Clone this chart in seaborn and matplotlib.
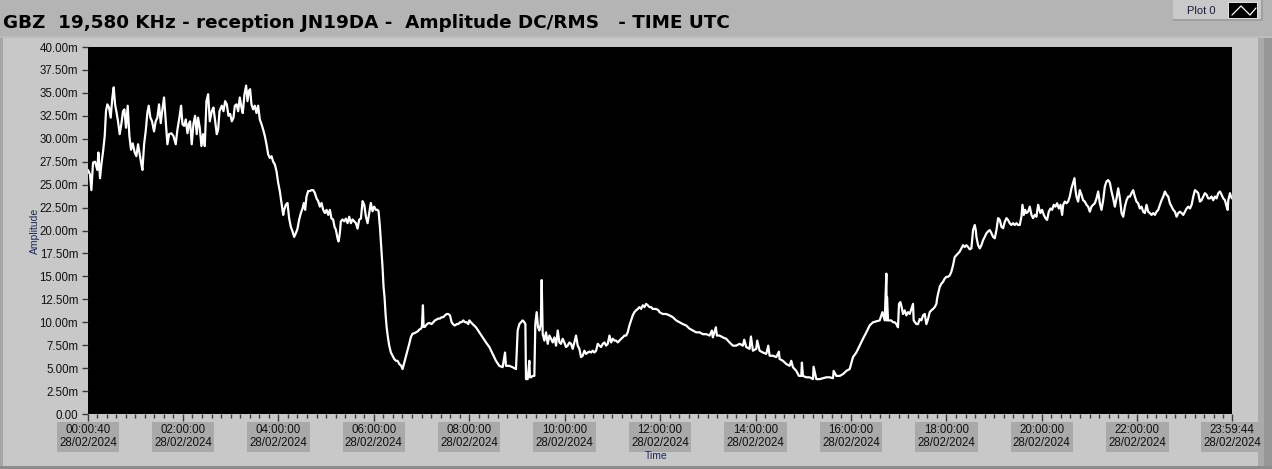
import numpy as np
import pandas as pd
import matplotlib
matplotlib.use("Agg")
import matplotlib.pyplot as plt
import seaborn as sns
from matplotlib.patches import Rectangle
from matplotlib.lines import Line2D
from matplotlib.ticker import FixedLocator

# ---- data: time in minutes after 00:00 UTC (28/02/2024), amplitude in mV ----
t_seg1 = [0.7, 3.2, 4.9, 7.0, 9.5, 12.4, 13.7, 15.8, 17.5, 19.6, 21.7, 23.3, 25.0, 27.1, 29.2, 31.3, 33.0, 34.7, 36.3, 38.4,
          40.5, 42.6, 44.7, 46.4, 48.5, 50.6, 52.7, 54.8, 56.9, 59.4, 61.5, 63.6, 65.7, 67.8, 69.1, 71.2, 73.2, 75.3, 77.0, 79.1,
          81.2, 83.7, 85.8, 87.9, 90.0, 92.1, 94.2, 96.3, 98.4, 100.5, 102.6, 105.5, 108.1, 111.0, 113.1, 115.6, 117.7, 119.4, 121.5, 123.6,
          125.7, 127.4, 129.0, 131.1, 133.2, 135.3, 137.4, 139.1, 141.2, 143.3, 145.4, 147.5, 149.6, 151.7, 153.8, 156.3, 158.4, 160.5, 162.6, 164.3,
          166.0, 168.9, 171.0, 173.1, 175.2, 177.3, 179.4, 181.5, 183.6, 185.3, 187.4, 189.5, 191.5, 193.6, 195.3, 197.4, 199.5, 201.2, 202.9, 204.5,
          206.2, 208.3, 210.4, 212.5, 214.6, 216.7, 218.8, 220.9, 223.0, 225.1, 227.2, 229.3, 231.4, 233.5, 235.6, 237.7, 239.8, 241.9, 244.0, 246.1]
a_seg1 = [26.6, 26.1, 24.4, 27.4, 27.5, 26.6, 28.5, 25.7, 27.2, 28.6, 30.3, 33.0, 33.75, 33.4, 32.3, 34.5, 35.6, 33.75, 33.0, 31.9,
          30.5, 31.6, 33.0, 33.2, 31.2, 33.6, 30.3, 28.8, 29.5, 28.5, 28.1, 29.4, 28.3, 27.2, 26.6, 29.4, 30.8, 32.8, 33.6, 32.3,
          31.9, 30.8, 31.9, 32.3, 33.75, 31.7, 33.2, 34.5, 31.9, 29.4, 30.5, 30.6, 30.3, 29.4, 31.0, 32.3, 33.6, 31.6, 31.4, 32.1,
          30.6, 31.6, 31.9, 29.4, 31.6, 32.5, 30.5, 32.3, 31.2, 29.2, 30.5, 29.2, 34.1, 34.85, 31.9, 33.0, 33.4, 31.9, 30.5, 31.0,
          33.0, 33.6, 33.0, 34.1, 33.75, 32.5, 32.7, 31.9, 32.3, 33.6, 33.75, 33.0, 34.5, 33.4, 32.8, 34.85, 35.8, 34.1, 35.2, 35.4,
          33.75, 33.2, 33.6, 32.8, 33.6, 32.1, 31.6, 31.0, 30.3, 29.4, 28.3, 27.9, 28.1, 27.5, 27.2, 26.45, 25.2, 24.25, 23.0, 21.7]

t_seg2 = [247.3, 249.4, 251.5, 253.6, 255.7, 257.8, 259.9, 262.0, 264.1, 266.2, 268.3, 270.4, 272.0, 273.7, 275.4, 277.5, 279.6, 281.7, 283.8, 285.9,
          288.0, 290.1, 292.2, 294.3, 296.4, 298.5, 300.6, 302.7, 304.8, 306.8, 308.9, 310.6, 312.3, 314.4, 315.7, 317.3, 318.6, 320.7, 322.8, 324.9,
          327.0, 329.1, 331.2, 333.3, 335.4, 337.5, 339.6, 341.7, 343.8, 345.9, 348.0, 350.1, 352.2, 354.3, 356.3, 358.4, 360.5, 362.6, 364.7, 366.0,
          367.7, 369.4, 371.0, 372.3, 373.5, 374.8, 376.1, 377.7, 379.4, 381.5, 383.6, 385.7, 387.8, 389.9, 392.0, 394.5, 396.2, 397.9, 399.6, 401.2,
          402.9, 404.6, 406.7, 408.8, 410.9, 413.0, 415.1, 417.2, 419.3, 420.5, 421.8, 422.6, 424.3, 426.4, 428.5, 430.6, 432.7, 434.8, 436.9, 439.0,
          441.1, 443.2, 445.3, 447.4, 449.5, 451.6, 453.7, 455.8, 457.9, 460.0, 462.1, 464.2, 466.3, 468.4, 470.5, 472.5, 474.6, 476.7, 478.8]
a_seg2 = [22.25, 22.8, 23.0, 21.3, 20.4, 19.9, 19.3, 19.7, 20.2, 21.2, 21.9, 22.4, 23.0, 22.25, 23.7, 24.3, 24.3, 24.4, 24.4, 24.1,
          23.5, 23.2, 22.6, 23.0, 22.25, 21.9, 22.25, 21.7, 22.25, 21.3, 21.2, 20.4, 20.1, 19.15, 18.8, 19.7, 21.0, 21.2, 21.0, 21.3,
          20.8, 21.5, 20.8, 21.2, 21.0, 20.8, 20.2, 21.2, 21.3, 23.2, 22.8, 21.5, 20.8, 21.9, 23.0, 22.1, 22.6, 22.25, 22.25, 22.1,
          20.4, 18.2, 16.0, 13.85, 12.75, 10.9, 9.5, 8.4, 7.45, 6.7, 6.35, 6.0, 5.8, 5.8, 5.45, 5.25, 4.9, 5.45, 6.0, 6.55,
          7.1, 7.65, 8.4, 8.75, 8.8, 8.9, 9.0, 9.2, 9.3, 9.5, 11.85, 9.5, 9.5, 9.75, 9.9, 9.9, 9.8, 10.0, 10.2, 10.3,
          10.4, 10.4, 10.55, 10.55, 10.75, 10.9, 10.9, 10.75, 10.0, 9.75, 9.65, 9.8, 9.8, 10.0, 10.0, 10.2, 10.0, 10.0, 9.8]

t_seg3 = [480.1, 484.3, 488.5, 492.7, 496.9, 501.1, 505.3, 509.5, 513.6, 517.8, 522.0, 525.0, 526.2, 530.4, 534.6, 538.8, 540.9, 543.0, 545.1, 547.2,
          549.3, 550.6, 551.4, 553.5, 555.6, 556.4, 557.7, 559.8, 561.9, 563.1, 564.8, 566.5, 568.2, 569.9, 571.1, 572.4, 574.5, 576.6, 578.7, 580.8,
          582.9, 585.0, 587.1, 589.2, 591.3, 593.4, 595.4, 597.5, 599.6, 601.7, 603.8, 605.9, 608.0, 610.1, 612.2, 614.3, 616.4, 618.5, 620.6, 622.7,
          624.8, 626.9, 629.0, 631.1, 633.2, 635.3, 637.4, 639.5, 641.6, 643.7, 645.8, 647.9, 650.0, 652.1, 654.2, 656.3, 658.4, 660.5, 662.6, 664.7,
          666.8, 668.9, 671.0, 673.1, 675.2, 677.3, 679.3, 681.4, 683.5, 685.6, 687.7, 689.8, 691.9, 694.0, 696.1, 698.2, 700.3, 702.4, 704.5, 706.6,
          708.7, 710.8, 712.9, 715.0, 718.0]
a_seg3 = [10.2, 9.8, 9.45, 8.9, 8.35, 7.8, 7.3, 6.55, 5.8, 5.25, 5.1, 6.7, 5.25, 5.25, 5.1, 4.9, 9.1, 9.8, 10.0, 10.2,
          10.0, 9.8, 3.8, 3.8, 5.8, 4.0, 4.0, 4.15, 4.15, 9.8, 11.1, 9.45, 9.1, 9.8, 14.6, 8.7, 8.0, 8.9, 7.65, 8.55,
          8.2, 7.8, 8.35, 7.45, 9.1, 7.8, 7.65, 8.2, 7.8, 7.3, 7.45, 7.8, 7.65, 7.1, 7.8, 8.55, 7.45, 7.1, 6.2, 6.35,
          6.9, 6.55, 6.7, 6.8, 6.7, 6.9, 6.7, 6.9, 7.65, 7.45, 7.3, 7.65, 7.8, 7.45, 7.65, 8.55, 7.8, 8.2, 8.0, 8.0,
          7.8, 8.0, 8.2, 8.35, 8.55, 8.55, 8.9, 9.65, 10.2, 10.75, 11.1, 11.3, 11.45, 11.65, 11.45, 11.85, 11.65, 12.0, 11.85, 11.65,
          11.65, 11.45, 11.45, 11.45, 11.3]

t_seg4 = [719.2, 723.4, 727.6, 731.8, 736.0, 740.2, 744.4, 748.6, 752.8, 757.0, 761.2, 765.4, 769.6, 773.8, 778.0, 782.2, 785.1, 786.3, 790.1, 791.4,
          794.7, 798.9, 803.1, 807.3, 811.5, 815.7, 819.9, 824.1, 825.8, 828.3, 832.5, 834.2, 836.7, 840.9, 842.1, 845.1, 849.3, 853.5, 856.0, 857.7,
          861.9, 866.1, 869.4, 870.2, 874.4, 878.6, 882.8, 884.9, 887.0, 891.2, 894.6, 897.5, 898.3, 899.6, 903.8, 908.0, 912.2, 913.0, 916.4, 920.6,
          924.8, 929.0, 933.2, 937.4, 938.2, 941.6, 945.8, 950.0, 954.2, 958.4, 962.5, 966.7, 970.9, 975.1, 979.3, 983.5, 987.7, 991.9, 996.1, 999.5,
          1002.4, 1004.5, 1004.9, 1005.3, 1006.6]
a_seg4 = [11.1, 10.9, 10.9, 10.75, 10.55, 10.2, 10.0, 9.8, 9.65, 9.3, 9.1, 8.9, 8.9, 8.7, 8.7, 8.55, 9.1, 8.35, 9.45, 8.55,
          8.55, 8.35, 8.2, 7.8, 7.45, 7.45, 7.65, 7.45, 8.1, 7.3, 7.1, 8.45, 6.9, 7.1, 8.0, 6.9, 6.7, 6.55, 7.45, 6.35,
          6.35, 6.2, 6.8, 6.0, 5.8, 5.45, 5.25, 5.8, 5.1, 4.7, 4.15, 4.15, 5.6, 4.15, 4.0, 4.0, 3.8, 5.15, 3.8, 3.8,
          3.9, 4.0, 4.0, 3.9, 4.7, 4.15, 4.15, 4.35, 4.7, 4.9, 6.2, 6.7, 7.45, 8.2, 8.9, 9.65, 10.0, 10.1, 10.2, 11.1,
          10.2, 15.3, 10.2, 12.75, 10.2]

t_seg5 = [1007.8, 1010.7, 1012.8, 1014.9, 1017.0, 1019.1, 1020.4, 1022.1, 1023.7, 1025.4, 1027.5, 1029.6, 1031.7, 1033.8, 1035.9, 1038.0, 1038.8, 1040.5, 1042.2, 1044.3,
          1046.4, 1048.5, 1050.6, 1052.7, 1054.8, 1056.9, 1059.0, 1061.1, 1063.2, 1065.3, 1067.4, 1068.2, 1069.5, 1071.6, 1073.6, 1075.7, 1077.8, 1079.9, 1082.0, 1084.1,
          1086.2, 1088.3, 1090.4, 1092.5, 1094.6, 1096.7, 1098.8, 1100.9, 1103.0, 1105.1, 1107.2, 1109.3, 1111.4, 1113.5, 1115.6, 1116.9, 1117.7, 1119.8, 1121.9, 1124.0,
          1126.1, 1128.2, 1130.3, 1132.4, 1134.5, 1136.6, 1138.7, 1140.8, 1142.9, 1145.0, 1147.1, 1149.2, 1151.3, 1153.4, 1155.5, 1157.5, 1159.6, 1161.7, 1163.8, 1165.9,
          1168.0, 1170.1, 1172.2, 1174.3, 1175.6, 1177.3, 1178.9, 1180.6, 1182.7, 1184.8, 1186.9, 1189.0, 1191.1, 1193.2, 1195.3]
a_seg5 = [10.2, 10.2, 10.0, 10.0, 9.8, 9.45, 12.0, 12.2, 11.65, 10.9, 11.3, 10.75, 11.1, 10.9, 11.45, 12.0, 10.2, 10.0, 9.8, 9.8,
          10.35, 10.2, 10.75, 10.9, 9.8, 10.35, 11.1, 11.3, 11.45, 11.65, 12.0, 12.55, 13.1, 13.85, 14.2, 14.4, 14.75, 14.95, 14.95, 15.1,
          15.5, 16.2, 17.1, 17.3, 17.5, 17.7, 18.05, 18.4, 18.2, 18.4, 18.2, 17.95, 18.05, 20.05, 20.6, 20.05, 19.3, 18.4, 18.05, 18.4,
          18.95, 19.3, 19.7, 19.9, 20.05, 19.7, 19.3, 19.15, 20.05, 21.35, 21.15, 20.4, 20.25, 20.95, 21.35, 21.15, 20.8, 20.6, 20.8, 20.6,
          20.8, 20.6, 20.6, 21.5, 22.8, 21.7, 22.25, 21.9, 22.05, 22.6, 21.7, 21.35, 21.7, 21.5, 22.8]

t_seg6 = [1196.5, 1198.2, 1200.3, 1202.4, 1204.5, 1206.6, 1208.7, 1210.8, 1212.9, 1215.0, 1217.1, 1219.2, 1221.3, 1223.4, 1225.5, 1226.8, 1228.9, 1231.0, 1233.0, 1235.1,
          1237.2, 1239.3, 1241.0, 1242.3, 1243.5, 1245.6, 1247.7, 1249.8, 1251.9, 1254.0, 1256.1, 1258.2, 1260.3, 1262.4, 1264.5, 1266.6, 1268.7, 1270.8, 1272.9, 1275.0,
          1277.1, 1279.2, 1281.3, 1283.4, 1285.5, 1287.6, 1289.7, 1291.8, 1293.9, 1296.0, 1298.1, 1300.2, 1302.3, 1304.4, 1306.5, 1308.6, 1310.7, 1312.7, 1314.8, 1316.9,
          1319.0, 1321.1, 1323.2, 1325.3, 1327.4, 1329.5, 1331.6, 1333.7, 1335.8, 1337.9, 1340.0, 1342.1, 1344.2, 1346.3, 1348.4, 1350.5, 1352.6, 1354.7, 1356.8, 1358.9,
          1361.0, 1363.1, 1365.2, 1367.3, 1369.4, 1371.5, 1373.6, 1375.7, 1377.8, 1379.9, 1382.0, 1384.1, 1386.2, 1388.3, 1390.4, 1392.5, 1394.6, 1396.6, 1398.7, 1400.8,
          1402.9, 1405.0, 1407.1, 1409.2, 1411.3, 1413.4, 1415.5, 1417.6, 1419.7, 1421.8, 1423.9, 1426.0, 1428.1, 1430.2, 1432.3, 1433.6, 1434.4, 1436.5, 1437.8, 1439.0]
a_seg6 = [22.4, 21.9, 22.25, 21.7, 21.35, 21.15, 22.05, 22.4, 22.25, 22.8, 22.6, 22.97, 22.4, 22.8, 21.7, 22.8, 23.15, 22.97, 23.15, 23.7,
          24.6, 25.2, 25.7, 24.4, 23.7, 23.15, 24.4, 23.9, 23.3, 23.15, 22.8, 22.6, 22.05, 22.6, 22.8, 22.97, 23.5, 24.25, 22.97, 22.25,
          23.3, 24.8, 25.35, 25.5, 25.2, 24.25, 23.5, 22.6, 23.5, 24.6, 23.5, 21.9, 21.5, 22.6, 23.3, 23.7, 23.7, 24.07, 24.4, 23.7,
          23.15, 22.97, 22.4, 22.6, 22.05, 21.9, 22.8, 22.05, 21.9, 21.7, 21.9, 21.7, 22.05, 22.25, 22.8, 23.3, 23.7, 24.25, 23.9, 23.7,
          22.97, 22.6, 22.25, 22.05, 21.5, 21.9, 22.05, 21.9, 21.7, 22.05, 22.4, 22.6, 22.4, 22.8, 23.7, 24.4, 24.25, 24.07, 23.15, 23.3,
          23.7, 24.07, 23.9, 23.5, 23.5, 23.7, 23.3, 23.7, 23.5, 24.07, 24.25, 23.9, 23.5, 23.3, 22.6, 22.25, 23.3, 24.07, 23.7, 23.5]

x_tick_minutes = [0.67, 120, 240, 360, 480, 600, 720, 840, 960, 1080, 1200, 1320, 1439.07]
x_tick_times = ["00:00:40", "02:00:00", "04:00:00", "06:00:00", "08:00:00", "10:00:00", "12:00:00",
                "14:00:00", "16:00:00", "18:00:00", "20:00:00", "22:00:00", "23:59:44"]
x_tick_date = "28/02/2024"
y_ticks = [0, 2.5, 5, 7.5, 10, 12.5, 15, 17.5, 20, 22.5, 25, 27.5, 30, 32.5, 35, 37.5, 40]
y_tick_labels = ["0.00"] + [f"{v:.2f}m" for v in y_ticks[1:]]

title_text = "GBZ  19,580 KHz - reception JN19DA -  Amplitude DC/RMS   - TIME UTC"
legend_text = "Plot 0"

# ---- build dataframe ----
segs_t = [t_seg1, t_seg2, t_seg3, t_seg4, t_seg5, t_seg6]
segs_a = [a_seg1, a_seg2, a_seg3, a_seg4, a_seg5, a_seg6]
for tt, aa in zip(segs_t, segs_a):
    assert len(tt) == len(aa), (len(tt), len(aa), tt[0])
df = pd.DataFrame({"Time": sum(segs_t, []), "Amplitude": sum(segs_a, [])})

# ---- figure ----
W, H = 1272, 469
sns.set_style("dark")
plt.rcParams["font.family"] = ["DejaVu Sans"]
TICK_FONT = "Liberation Sans"
fig = plt.figure(figsize=(W / 100, H / 100), dpi=100, facecolor="#b4b4b4")


def frect(x0, y0, x1, y1, color, z=-10):
    fig.patches.append(Rectangle((x0 / W, 1 - y1 / H), (x1 - x0) / W, (y1 - y0) / H,
                                 transform=fig.transFigure, facecolor=color,
                                 edgecolor="none", zorder=z))


# panel backgrounds
frect(0, 37, W, H, "#c8c8c8")
frect(0, 37, 3, H, "#a6a6a6")
frect(1258, 37, 1264, H, "#aaaaaa")
frect(1264, 37, W, H, "#969696")
frect(0, 466, W, H, "#8c8c8c")
frect(0, 36, W, 38, "#bdbdbd")

# legend box
frect(1173, 0, 1262, 20, "#c9c9c9")
frect(1173, 19, 1262, 21, "#a0a0a0")
frect(1261, 0, 1263, 21, "#a0a0a0")
frect(1228, 2, 1258, 19, "#e0e0e0")
frect(1229, 3, 1257, 18, "#000000")
fig.lines.append(Line2D([1232 / W, 1241 / W, 1250 / W, 1256 / W],
                        [1 - 15 / H, 1 - 6 / H, 1 - 15 / H, 1 - 8 / H],
                        transform=fig.transFigure, color="white", linewidth=0.9, zorder=-5))
fig.text(1187 / W, 1 - 10.5 / H, legend_text, fontsize=8, family=TICK_FONT, color="#1a1a3a",
         va="center", ha="left")

# title
fig.text(3 / W, 1 - 23 / H, title_text, fontsize=13.2, fontweight="bold",
         color="black", va="center", ha="left")

# plot axes
ax = fig.add_axes([88 / W, 1 - 414 / H, (1232 - 88) / W, (414 - 47) / H])
ax.set_zorder(5)
ax.set_facecolor("black")
sns.lineplot(data=df, x="Time", y="Amplitude", estimator=None, sort=False,
             color="white", linewidth=1.6, ax=ax)
ax.set_xlim(x_tick_minutes[0], x_tick_minutes[-1])
ax.set_ylim(0, 40)
for s in ax.spines.values():
    s.set_visible(False)
ax.grid(False)

ax.set_yticks(y_ticks)
ax.set_yticklabels(y_tick_labels, family=TICK_FONT)
ax.set_xticks(x_tick_minutes)
ax.set_xticklabels([f"{t}\n{x_tick_date}" for t in x_tick_times], family=TICK_FONT)
minor = [m for m in np.arange(12, 1440, 12) if all(abs(m - M) > 3 for M in x_tick_minutes)]
ax.xaxis.set_minor_locator(FixedLocator(minor))

ax.tick_params(axis="y", which="major", direction="out", length=4, width=1,
               color="#3a3a3a", labelsize=8.3, labelcolor="#111111", pad=3, left=True)
ax.tick_params(axis="x", which="major", direction="out", length=5, width=1,
               color="#3a3a3a", labelsize=8.3, labelcolor="#111111", pad=2.5, bottom=True)
ax.tick_params(axis="x", which="minor", direction="out", length=3, width=1,
               color="#3a3a3a", bottom=True)
for lbl in ax.get_xticklabels():
    lbl.set_linespacing(1.1)
    lbl.set_bbox(dict(boxstyle="square,pad=0.2", facecolor="#a9a9a9", edgecolor="none"))

ax.set_ylabel("Amplitude", fontsize=7.5, family=TICK_FONT, color="#1e2a5a")
ax.yaxis.set_label_coords(-0.042, 0.5)
ax.set_xlabel("Time", fontsize=7.5, family=TICK_FONT, color="#1e2a5a")
ax.xaxis.set_label_coords(0.497, -0.1)

fig.savefig("out.png", dpi=100, facecolor=fig.get_facecolor())
